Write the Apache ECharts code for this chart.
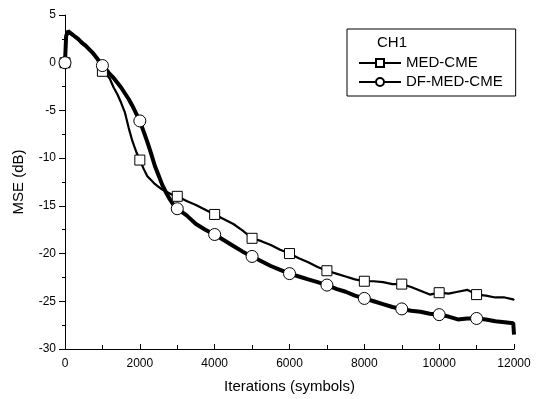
<!DOCTYPE html>
<html>
<head>
<meta charset="utf-8">
<script src="https://cdn.jsdelivr.net/npm/echarts@6/dist/echarts.min.js"></script>
<style>html,body{margin:0;padding:0;background:#fff;}#c{width:541px;height:399px;}</style>
</head>
<body>
<div id="c"></div>
<script>
// Iterations (symbols)
var iterations = [0,30,80,150,250,350,450,550,650,750,850,1000,
  1100,1200,1300,1400,1500,1600,1700,1800,1900,2000,
  2100,2200,2300,2400,2500,2600,2700,2800,2900,3000,
  3250,3500,3750,4000,4250,4500,4750,5000,5250,5500,5750,6000,
  6250,6500,6750,7000,7250,7500,7750,8000,8250,8500,8750,9000,
  9250,9500,9750,10000,10250,10500,10750,11000,11250,11500,11750,11980,12000];
// MSE (dB) - MED-CME
var medCme = [0,2.6,3.2,3.0,2.7,2.4,2.0,1.7,1.3,0.9,0.4,-0.9,
  -1.2,-1.7,-2.6,-3.3,-4.2,-5.2,-6.8,-8.2,-9.3,-10.2,
  -11.1,-11.9,-12.3,-12.7,-13.0,-13.3,-13.5,-13.7,-13.9,-14.0,
  -14.5,-14.9,-15.4,-15.9,-16.4,-16.9,-17.6,-18.4,-18.7,-19.1,-19.6,-20.0,
  -20.5,-20.9,-21.4,-21.8,-22.1,-22.4,-22.7,-22.9,-22.9,-23.0,-23.2,-23.2,
  -23.5,-23.9,-24.3,-24.1,-24.2,-24.0,-23.8,-24.3,-24.4,-24.6,-24.6,-24.8,-24.9];
// MSE (dB) - DF-MED-CME
var dfMedCme = [0,2.8,3.3,3.1,2.8,2.5,2.1,1.8,1.4,1.0,0.5,-0.3,
  -0.7,-1.2,-1.6,-2.1,-2.6,-3.2,-3.8,-4.5,-5.3,-6.1,
  -7.2,-8.3,-9.5,-10.8,-11.8,-12.8,-13.6,-14.3,-14.9,-15.3,
  -16.0,-16.9,-17.5,-18.0,-18.6,-19.2,-19.8,-20.3,-20.8,-21.3,-21.7,-22.1,
  -22.4,-22.7,-23.0,-23.3,-23.7,-24.0,-24.4,-24.7,-25.0,-25.3,-25.6,-25.8,
  -26.0,-26.1,-26.3,-26.4,-26.6,-26.9,-26.8,-26.8,-26.9,-27.1,-27.2,-27.3,-28.5];
// marker positions (every 1000 symbols)
var markerIters = [0,1000,2000,3000,4000,5000,6000,7000,8000,9000,10000,11000];
var xTicks = {min:0, max:12000, interval:2000};
var yTicks = {min:-30, max:5, interval:5};

function pairs(xs, ys){ return xs.map(function(x,i){ return [x, ys[i]]; }); }
function markers(xs, ys){
  return markerIters.map(function(m){ var i = xs.indexOf(m); return [m, ys[i]]; });
}

var font = 'Liberation Sans, Arial, sans-serif';
var chart = echarts.init(document.getElementById('c'), null, {renderer:'canvas'});
chart.setOption({
  animation:false,
  backgroundColor:'#fff',
  grid:{left:65, right:27, top:15, bottom:49, containLabel:false},
  title:{text:'CH1', left:377, top:35, textStyle:{fontFamily:font, fontSize:15, fontWeight:'normal', color:'#000'}, padding:0},
  legend:{
    data:['MED-CME','DF-MED-CME'],
    orient:'vertical', left:347, top:29,
    padding:[26,13,6,11],
    borderColor:'#000', borderWidth:1,
    itemWidth:42, itemHeight:10, itemGap:3,
    textStyle:{fontFamily:font, fontSize:15, color:'#000', lineHeight:16},
    inactiveColor:'#000'
  },
  xAxis:{
    type:'value', min:xTicks.min, max:xTicks.max, interval:xTicks.interval,
    name:'Iterations (symbols)', nameLocation:'middle', nameGap:30,
    nameTextStyle:{fontFamily:font, fontSize:15, color:'#000'},
    axisLine:{show:true, onZero:false, lineStyle:{color:'#000', width:1}},
    axisTick:{show:true, inside:true, length:5, lineStyle:{color:'#000'}},
    minorTick:{show:true, splitNumber:2, length:4, lineStyle:{color:'#000'}},
    axisLabel:{fontFamily:font, fontSize:12, color:'#000', margin:9,
      formatter:function(v){ return String(v); }},
    splitLine:{show:false}
  },
  yAxis:{
    type:'value', min:yTicks.min, max:yTicks.max, interval:yTicks.interval,
    name:'MSE (dB)', nameLocation:'middle', nameGap:39,
    nameTextStyle:{fontFamily:font, fontSize:15, color:'#000'},
    axisLine:{show:true, onZero:false, lineStyle:{color:'#000', width:1}},
    axisTick:{show:true, inside:false, length:6, lineStyle:{color:'#000'}},
    minorTick:{show:true, splitNumber:2, length:3, lineStyle:{color:'#000'}},
    axisLabel:{fontFamily:font, fontSize:12, color:'#000', margin:9},
    splitLine:{show:false}
  },
  series:[
    {name:'MED-CME', type:'line', data:pairs(iterations, medCme),
     symbol:'rect', symbolSize:10, showSymbol:false,
     lineStyle:{color:'#000', width:2.2},
     itemStyle:{color:'#fff', borderColor:'#000', borderWidth:1}, z:2},
    {name:'DF-MED-CME', type:'line', data:pairs(iterations, dfMedCme),
     symbol:'circle', symbolSize:12, showSymbol:false,
     lineStyle:{color:'#000', width:4},
     itemStyle:{color:'#fff', borderColor:'#000', borderWidth:1}, z:2},
    {name:'MED-CME pts', type:'scatter', data:markers(iterations, medCme),
     symbol:'rect', symbolSize:10,
     itemStyle:{color:'#fff', borderColor:'#000', borderWidth:1, opacity:1}, z:3},
    {name:'DF-MED-CME pts', type:'scatter', data:markers(iterations, dfMedCme),
     symbol:'circle', symbolSize:12,
     itemStyle:{color:'#fff', borderColor:'#000', borderWidth:1, opacity:1}, z:4}
  ]
});
</script>
</body>
</html>
